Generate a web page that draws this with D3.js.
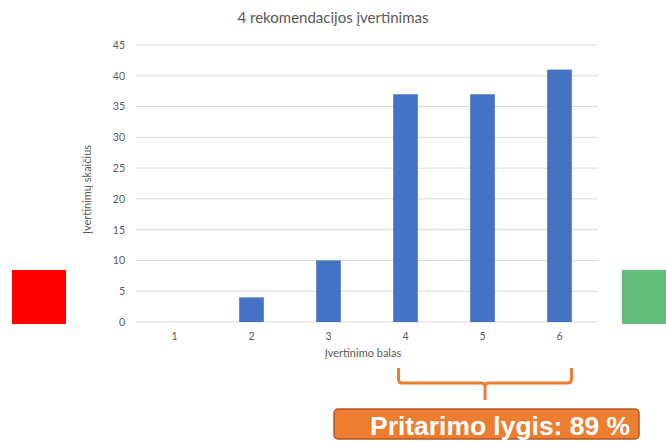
<!DOCTYPE html>
<html>
<head>
<meta charset="utf-8">
<script src="https://cdn.jsdelivr.net/npm/d3@7"></script>
<style>
body { margin: 0; background: #fff; }
text { font-family: Lato, "Open Sans", sans-serif; }
</style>
</head>
<body>
<svg width="666" height="441"></svg>
<script>
var categories = ["1", "2", "3", "4", "5", "6"];
var counts = [0, 4, 10, 37, 37, 41];
var yTicks = [0, 5, 10, 15, 20, 25, 30, 35, 40, 45];
var title = "4 rekomendacijos įvertinimas";
var xTitle = "Įvertinimo balas";
var yTitle = "Įvertinimų skaičius";
var note = "Pritarimo lygis: 89 %";
var bracedFrom = "4", bracedTo = "6";

var margin = {top: 45, left: 136};
var width = 462, height = 277;

var svg = d3.select("svg");

var x = d3.scaleBand().domain(categories).range([0, width]).paddingInner(0.68).paddingOuter(0.34);
var y = d3.scaleLinear().domain([0, 45]).range([height, 0]);

var g = svg.append("g").attr("transform", "translate(" + margin.left + "," + margin.top + ")");

// gridlines
g.selectAll("line.grid").data(yTicks).enter().append("line")
  .attr("x1", 0).attr("x2", width)
  .attr("y1", function(d) { return y(d); }).attr("y2", function(d) { return y(d); })
  .attr("stroke", "#d9d9d9").attr("stroke-width", 1);

// y axis labels
var yAxis = g.append("g").call(d3.axisLeft(y).tickValues(yTicks).tickSize(0).tickPadding(11));
yAxis.select(".domain").remove();
yAxis.selectAll("text").attr("fill", "#595959").style("font-size", "10.5px");

// x axis labels
var xAxis = g.append("g").attr("transform", "translate(0," + height + ")")
  .call(d3.axisBottom(x).tickSize(0).tickPadding(11));
xAxis.select(".domain").remove();
xAxis.selectAll("text").attr("fill", "#595959").style("font-size", "10.5px");

// bars
g.selectAll("rect.bar").data(counts).enter().append("rect")
  .attr("x", function(d, i) { return x(categories[i]); })
  .attr("y", function(d) { return y(d); })
  .attr("width", x.bandwidth())
  .attr("height", function(d) { return height - y(d); })
  .attr("fill", "#4472c4");

// titles
svg.append("text").attr("x", 333).attr("y", 23).attr("text-anchor", "middle")
  .attr("fill", "#595959").style("font-size", "15px").text(title);
svg.append("text").attr("x", margin.left + width / 2 - 4).attr("y", 357).attr("text-anchor", "middle")
  .attr("fill", "#595959").style("font-size", "11px").text(xTitle);
svg.append("text").attr("transform", "translate(91," + (margin.top + height / 2 + 6) + ") rotate(-90)")
  .attr("text-anchor", "middle").attr("fill", "#595959").style("font-size", "11px").text(yTitle);

// side squares
svg.append("rect").attr("x", 12).attr("y", 270).attr("width", 54).attr("height", 54).attr("fill", "#ff0000");
svg.append("rect").attr("x", 622).attr("y", 270).attr("width", 44).attr("height", 54).attr("fill", "#63be7b");

// brace under categories 4..6
var bx0 = margin.left + x(bracedFrom) + x.bandwidth() / 2 - 7;
var bx1 = margin.left + x(bracedTo) + x.bandwidth() / 2 + 12;
var bmid = (bx0 + bx1) / 2;
var by0 = 368, by1 = 383, by2 = 400, r = 4;
svg.append("path")
  .attr("d", "M" + bx0 + "," + by0 + " V" + (by1 - r) + " Q" + bx0 + "," + by1 + " " + (bx0 + r) + "," + by1 +
    " H" + (bmid - r) + " Q" + bmid + "," + by1 + " " + bmid + "," + (by1 + r) + " V" + by2 +
    " M" + bmid + "," + (by1 + r) + " Q" + bmid + "," + by1 + " " + (bmid + r) + "," + by1 +
    " H" + (bx1 - r) + " Q" + bx1 + "," + by1 + " " + bx1 + "," + (by1 - r) + " V" + by0)
  .attr("fill", "none").attr("stroke", "#ed7d31").attr("stroke-width", 3);

// note box
svg.append("rect").attr("x", 334).attr("y", 409).attr("width", 305).attr("height", 30).attr("rx", 4)
  .attr("fill", "#ed7d31").attr("stroke", "#ae5a21").attr("stroke-width", 1.5);
svg.append("text").attr("x", 370).attr("y", 435)
  .attr("textLength", 260).attr("lengthAdjust", "spacingAndGlyphs")
  .attr("fill", "#fff").style("font-family", "'Liberation Sans', Arial, sans-serif")
  .style("font-weight", "bold").style("font-size", "25px").text(note);
</script>
</body>
</html>
